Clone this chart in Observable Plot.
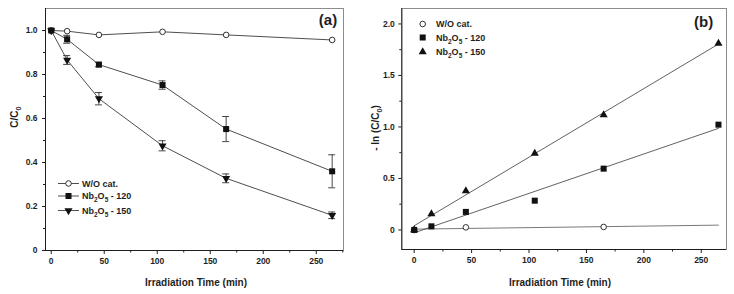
<!DOCTYPE html>
<html><head><meta charset="utf-8">
<script src="https://cdn.jsdelivr.net/npm/d3@7"></script>
<script src="https://cdn.jsdelivr.net/npm/@observablehq/plot@0.6"></script>
<style>
body{margin:0;background:#fff;}
#wrap{display:flex;width:734px;height:294px;overflow:hidden;}
svg text{white-space:pre;}
</style></head><body><div id="wrap"></div>
<script>
// ---------- data ----------
const time = [0, 15, 45, 105, 165, 265];
// panel (a): C/C0
const woCat = [1.0, 0.997, 0.980, 0.994, 0.980, 0.957];
const nb120 = [1.0, 0.960, 0.845, 0.752, 0.552, 0.360];
const nb120Err = [0, 0.018, 0.010, 0.019, 0.057, 0.075];
const nb150 = [1.0, 0.866, 0.690, 0.476, 0.328, 0.160];
const nb150Err = [0, 0.020, 0.028, 0.023, 0.020, 0.015];
// panel (b): -ln(C/C0)
const timeWoB = [0, 45, 165];
const woCatB = [0.0, 0.025, 0.029];
const nb120B = [0, 0.035, 0.175, 0.284, 0.595, 1.022];
const nb150B = [0, 0.155, 0.380, 0.744, 1.116, 1.810];
// ticks
const xMajor = [0, 50, 100, 150, 200, 250];
const xMinor = [25, 75, 125, 175, 225, 275];
const yMajorA = [0, 0.2, 0.4, 0.6, 0.8, 1.0];
const yMinorA = [0.1, 0.3, 0.5, 0.7, 0.9];
const yMajorB = [0, 0.5, 1.0, 1.5, 2.0];
const yMinorB = [0.25, 0.75, 1.25, 1.75];
const nameWO = ["W/O cat."];
const name120 = ["Nb", {sub: "2"}, "O", {sub: "5"}, " - 120"];
const name150 = ["Nb", {sub: "2"}, "O", {sub: "5"}, " - 150"];

// ---------- helpers ----------
const FONT = "'Liberation Sans', Arial, Helvetica, sans-serif";
const INK = "#1e1e1e";
const STYLE = `font-family:${FONT};font-size:8.5px;font-weight:bold;color:${INK};background:white;overflow:visible;`;
const R_CIRCLE = 2.8, R_SQUARE = 3.4, R_TRI = 3.0;
const rows = (xs, ys, errs) => xs.map((t, i) => ({t, v: ys[i], lo: errs ? ys[i] - errs[i] : null, hi: errs ? ys[i] + errs[i] : null}));
const fmt = d => d === 0 ? "0" : d.toFixed(1);

function richText(g, x, y, parts, o) {
  const size = o.size;
  const t = g.append("text").attr("x", x).attr("y", y)
    .attr("font-family", FONT).attr("font-size", size).attr("font-weight", "bold")
    .attr("fill", INK).attr("text-anchor", o.anchor || "start");
  if (o.rotate) t.attr("transform", `rotate(-90 ${x} ${y})`);
  let shifted = false;
  for (const p of parts) {
    const isSub = typeof p !== "string";
    const ts = t.append("tspan").text(isSub ? p.sub : p);
    if (isSub) {
      ts.attr("font-size", size * 0.72);
      if (!shifted) { ts.attr("dy", size * 0.32); shifted = true; }
    } else if (shifted) { ts.attr("dy", -size * 0.32); shifted = false; }
  }
  return t;
}

// ---------- panel (a) ----------
const xDomA = [-5.4, 275.7];
const yDomA = [0, 1.1];
const dWO = rows(time, woCat);
const d120 = rows(time, nb120, nb120Err);
const d150 = rows(time, nb150, nb150Err);
const errA = [...d120, ...d150].filter(d => d.hi - d.lo > 0);

const plotA = Plot.plot({
  width: 367, height: 294,
  marginLeft: 45, marginRight: 24, marginTop: 8, marginBottom: 44,
  style: STYLE,
  x: {domain: xDomA, label: null},
  y: {domain: yDomA, label: null},
  marks: [
    Plot.frame({stroke: "#8c8c8c", strokeWidth: 1}),
    Plot.ruleX([xDomA[0]], {stroke: INK, strokeWidth: 1}),
    Plot.ruleY([yDomA[0]], {stroke: INK, strokeWidth: 1}),
    Plot.axisX({ticks: xMajor, tickSize: 4, tickPadding: 3, tickFormat: d => d, label: null}),
    Plot.axisX({ticks: xMinor.filter(t => t <= xDomA[1]), tickSize: 2.5, tickFormat: () => "", label: null}),
    Plot.axisY({ticks: yMajorA, tickSize: 3, tickPadding: 5, tickFormat: fmt, label: null}),
    Plot.axisY({ticks: yMinorA, tickSize: 2, tickFormat: () => "", label: null}),
    Plot.ruleX(errA, {x: "t", y1: "lo", y2: "hi", stroke: "#333", strokeWidth: 0.9}),
    Plot.ruleY(errA, {y: "hi", x1: "t", x2: "t", insetLeft: -3.5, insetRight: -3.5, stroke: "#333", strokeWidth: 0.9}),
    Plot.ruleY(errA, {y: "lo", x1: "t", x2: "t", insetLeft: -3.5, insetRight: -3.5, stroke: "#333", strokeWidth: 0.9}),
    Plot.line(dWO, {x: "t", y: "v", stroke: "#3a3a3a", strokeWidth: 0.9}),
    Plot.line(d120, {x: "t", y: "v", stroke: "#3a3a3a", strokeWidth: 0.9}),
    Plot.line(d150, {x: "t", y: "v", stroke: "#3a3a3a", strokeWidth: 0.9}),
    Plot.dot(dWO, {x: "t", y: "v", r: R_CIRCLE, fill: "white", stroke: INK, strokeWidth: 0.9}),
    Plot.dot(d150, {x: "t", y: "v", symbol: "triangle", rotate: 180, r: R_TRI, fill: "#111", stroke: "none"}),
    Plot.dot(d120, {x: "t", y: "v", symbol: "square", r: R_SQUARE, fill: "#111", stroke: "none"})
  ]
});

// ---------- panel (b) ----------
const xDomB = [-10.8, 272];
const yDomB = [-0.19, 2.15];
const dWOB = rows(timeWoB, woCatB);
const d120B = rows(time, nb120B);
const d150B = rows(time, nb150B);
const tExt = d3.extent(time);
function fitLine(data) {
  const mx = d3.mean(data, d => d.t), my = d3.mean(data, d => d.v);
  const sxy = d3.sum(data, d => (d.t - mx) * (d.v - my));
  const sxx = d3.sum(data, d => (d.t - mx) ** 2);
  const b = sxy / sxx, a = my - b * mx;
  return tExt.map(t => ({t, v: a + b * t}));
}

const plotB = Plot.plot({
  width: 367, height: 294,
  marginLeft: 34.3, marginRight: 8, marginTop: 8, marginBottom: 45,
  style: STYLE,
  x: {domain: xDomB, label: null},
  y: {domain: yDomB, label: null},
  marks: [
    Plot.frame({stroke: "#8c8c8c", strokeWidth: 1}),
    Plot.ruleX([xDomB[0]], {stroke: INK, strokeWidth: 1}),
    Plot.ruleY([yDomB[0]], {stroke: INK, strokeWidth: 1}),
    Plot.axisX({ticks: xMajor, tickSize: 4, tickPadding: 3, tickFormat: d => d, label: null}),
    Plot.axisX({ticks: xMinor.filter(t => t <= xDomB[1]), tickSize: 2.5, tickFormat: () => "", label: null}),
    Plot.axisY({ticks: yMajorB, tickSize: 3, tickPadding: 4, tickFormat: fmt, label: null}),
    Plot.axisY({ticks: yMinorB, tickSize: 2, tickFormat: () => "", label: null}),
    Plot.line(fitLine(dWOB), {x: "t", y: "v", stroke: "#6a6a6a", strokeWidth: 0.9}),
    Plot.line(fitLine(d120B), {x: "t", y: "v", stroke: "#3a3a3a", strokeWidth: 0.8}),
    Plot.line(fitLine(d150B), {x: "t", y: "v", stroke: "#3a3a3a", strokeWidth: 0.8}),
    Plot.dot(dWOB, {x: "t", y: "v", r: R_CIRCLE, fill: "white", stroke: INK, strokeWidth: 0.9}),
    Plot.dot(d150B, {x: "t", y: "v", symbol: "triangle", r: R_TRI, fill: "#111", stroke: "none"}),
    Plot.dot(d120B, {x: "t", y: "v", symbol: "square", r: R_SQUARE, fill: "#111", stroke: "none"})
  ]
});

const wrap = document.getElementById("wrap");
wrap.append(plotA, plotB);

// ---------- annotations (a) ----------
{
  const g = d3.select(plotA).append("g");
  richText(g, 18, 117, ["C/C", {sub: "0"}], {size: 10, anchor: "middle", rotate: true});
  richText(g, 196, 285.6, ["Irradiation Time (min)"], {size: 10, anchor: "middle"});
  richText(g, 328, 25, ["(a)"], {size: 15, anchor: "middle"});
  const leg = [
    {y: 183.5, name: nameWO, type: d3.symbolCircle, r: R_CIRCLE, fill: "white", stroke: INK, rot: 0},
    {y: 196, name: name120, type: d3.symbolSquare, r: R_SQUARE, fill: "#111", stroke: "none", rot: 0},
    {y: 210.5, name: name150, type: d3.symbolTriangle, r: R_TRI, fill: "#111", stroke: "none", rot: 180}
  ];
  for (const L of leg) {
    g.append("line").attr("x1", 58).attr("x2", 79).attr("y1", L.y).attr("y2", L.y)
      .attr("stroke", "#3a3a3a").attr("stroke-width", 0.9);
    g.append("path").attr("d", d3.symbol(L.type, Math.PI * L.r * L.r)())
      .attr("transform", `translate(68.5,${L.y}) rotate(${L.rot})`)
      .attr("fill", L.fill).attr("stroke", L.stroke).attr("stroke-width", 0.9);
    richText(g, 82, L.y + 3.2, L.name, {size: 9});
  }
}
// ---------- annotations (b) ----------
{
  const g = d3.select(plotB).append("g");
  richText(g, 12, 128, ["- ln (C/C", {sub: "0"}, ")"], {size: 10, anchor: "middle", rotate: true});
  richText(g, 193, 285.6, ["Irradiation Time (min)"], {size: 10, anchor: "middle"});
  richText(g, 336.7, 27, ["(b)"], {size: 15, anchor: "middle"});
  const leg = [
    {y: 24, name: nameWO, type: d3.symbolCircle, r: R_CIRCLE, fill: "white", stroke: INK},
    {y: 37.5, name: name120, type: d3.symbolSquare, r: R_SQUARE, fill: "#111", stroke: "none"},
    {y: 52, name: name150, type: d3.symbolTriangle, r: R_TRI, fill: "#111", stroke: "none"}
  ];
  for (const L of leg) {
    g.append("path").attr("d", d3.symbol(L.type, Math.PI * L.r * L.r)())
      .attr("transform", `translate(55.7,${L.y})`)
      .attr("fill", L.fill).attr("stroke", L.stroke).attr("stroke-width", 0.9);
    richText(g, 69, L.y + 3.2, L.name, {size: 9});
  }
}
</script></body></html>
